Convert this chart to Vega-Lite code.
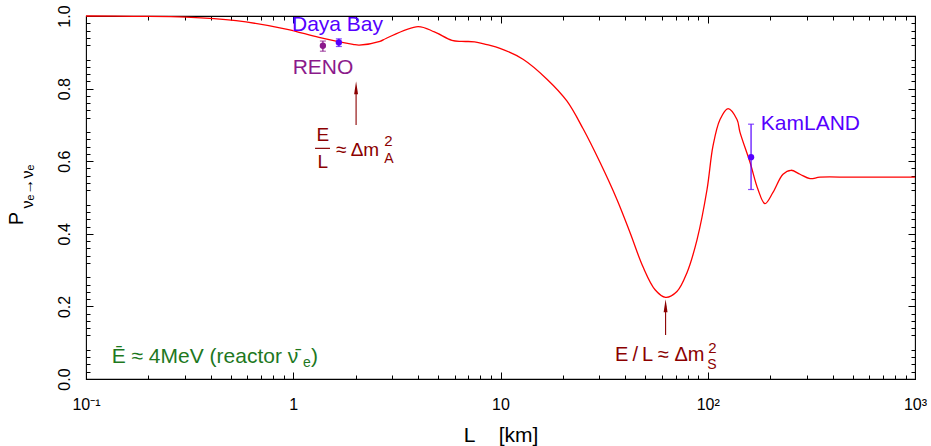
{
  "$schema": "https://vega.github.io/schema/vega-lite/v6.json",
  "width": 829,
  "height": 363,
  "autosize": {"type": "none"},
  "padding": {"left": 86, "top": 16, "right": 16, "bottom": 67},
  "config": {
    "font": "Liberation Sans",
    "view": {"stroke": "black", "strokeWidth": 1.1},
    "axis": {"grid": false, "domain": false, "tickColor": "black", "tickWidth": 1, "labelColor": "black", "titleColor": "black", "labelFont": "Liberation Sans", "titleFont": "Liberation Sans", "titleFontWeight": "normal"}
  },
  "datasets": {
    "curve": [
      {"L": 0.1, "P": 1.0}, {"L": 0.17, "P": 0.999}, {"L": 0.304, "P": 0.997}, {"L": 0.53, "P": 0.987},
      {"L": 0.923, "P": 0.964}, {"L": 1.331, "P": 0.941}, {"L": 1.942, "P": 0.922}, {"L": 2.08, "P": 0.920},
      {"L": 2.62, "P": 0.930}, {"L": 2.8, "P": 0.938}, {"L": 4.0, "P": 0.971}, {"L": 4.8, "P": 0.956},
      {"L": 5.83, "P": 0.933}, {"L": 6.5, "P": 0.930}, {"L": 7.5, "P": 0.929}, {"L": 8.6, "P": 0.921}, {"L": 9.94, "P": 0.911},
      {"L": 12.84, "P": 0.881}, {"L": 16.76, "P": 0.826}, {"L": 20.9, "P": 0.766}, {"L": 25.0, "P": 0.690},
      {"L": 30.2, "P": 0.597}, {"L": 36.5, "P": 0.494}, {"L": 42.2, "P": 0.403}, {"L": 48.7, "P": 0.309},
      {"L": 55.7, "P": 0.246}, {"L": 62.6, "P": 0.225}, {"L": 71.0, "P": 0.241}, {"L": 79.4, "P": 0.293},
      {"L": 88.8, "P": 0.384}, {"L": 99.2, "P": 0.522}, {"L": 106.0, "P": 0.642}, {"L": 114.6, "P": 0.715},
      {"L": 125.3, "P": 0.745}, {"L": 138.4, "P": 0.715}, {"L": 143.0, "P": 0.680}, {"L": 159.9, "P": 0.597},
      {"L": 174.8, "P": 0.522}, {"L": 188.9, "P": 0.483}, {"L": 206.4, "P": 0.514}, {"L": 230.7, "P": 0.564},
      {"L": 252.1, "P": 0.575}, {"L": 278.7, "P": 0.564}, {"L": 311.5, "P": 0.552}, {"L": 348.0, "P": 0.556},
      {"L": 500.0, "P": 0.556}, {"L": 1000.0, "P": 0.556}
    ],
    "exps": [
      {"exp": "RENO", "L": 1.39, "P": 0.918, "lo": 0.903, "hi": 0.931},
      {"exp": "Daya Bay", "L": 1.66, "P": 0.927, "lo": 0.916, "hi": 0.937},
      {"exp": "KamLAND", "L": 161.8, "P": 0.611, "lo": 0.522, "hi": 0.702}
    ],
    "expLabels": [
      {"exp": "Daya Bay", "text": "Daya Bay", "L": 1.635, "P": 0.959, "side": "center"},
      {"exp": "RENO", "text": "RENO", "L": 1.392, "P": 0.84, "side": "center"},
      {"exp": "KamLAND", "text": "KamLAND", "L": 180.3, "P": 0.6865, "side": "left"}
    ],
    "arrows": [
      {"L": 2.01, "P0": 0.70, "P1": 0.8025},
      {"L": 62.6, "P0": 0.1215, "P1": 0.2017}
    ],
    "bar": [{"L1": 1.274, "L2": 1.504, "P": 0.6354}],
    "annot": [
      {"kind": "frac", "text": "E", "L": 1.39, "P": 0.6555},
      {"kind": "frac", "text": "L", "L": 1.39, "P": 0.582},
      {"kind": "main", "text": "≈ Δm", "L": 1.608, "P": 0.614},
      {"kind": "sup", "text": "2", "L": 2.75, "P": 0.642},
      {"kind": "sub", "text": "A", "L": 2.75, "P": 0.594},
      {"kind": "main2", "text": "E\u2009/\u2009L ≈ Δm", "L": 35.7, "P": 0.0497},
      {"kind": "sup", "text": "2", "L": 100.5, "P": 0.071},
      {"kind": "sub", "text": "S", "L": 99.5, "P": 0.027}
    ],
    "green": [
      {"kind": "main", "text": "Ē ≈ 4MeV (reactor ν̄", "L": 0.133, "P": 0.0433},
      {"kind": "sub", "text": "e", "L": 1.114, "P": 0.033},
      {"kind": "main", "text": ")", "L": 1.218, "P": 0.0433}
    ],
    "ysub": [{"text": "νₑ→νₑ", "L": 0.0525, "P": 0.53}]
  },
  "resolve": {"axis": {"x": "independent", "y": "independent"}},
  "layer": [
    {
      "data": {"name": "curve"},
      "mark": {"type": "line", "color": "#ff0000", "strokeWidth": 1.3, "interpolate": "catmull-rom"},
      "encoding": {
        "x": {"field": "L", "type": "quantitative",
              "scale": {"type": "log", "domain": [0.1, 1000], "nice": false},
              "axis": {"orient": "bottom", "values": [0.1, 1, 10, 100, 1000],
                       "labelExpr": "datum.value < 0.5 ? '10⁻¹' : datum.value < 5 ? '1' : datum.value < 50 ? '10' : datum.value < 500 ? '10²' : '10³'",
                       "tickSize": -7, "labelPadding": 24, "labelFontSize": 16, "labelFlush": false,
                       "title": "L\u00a0\u00a0\u00a0\u00a0[km]", "titleFontSize": 21, "titlePadding": 12}},
        "y": {"field": "P", "type": "quantitative",
              "scale": {"domain": [0, 1], "nice": false, "zero": false},
              "axis": {"orient": "left", "values": [0, 0.2, 0.4, 0.6, 0.8, 1.0], "format": ".1f",
                       "tickSize": -7, "labelPadding": 21, "labelFontSize": 16, "labelAngle": 270,
                       "labelAlign": "center", "labelBaseline": "bottom", "labelFlush": false,
                       "title": "P", "titleFontSize": 20, "titleAngle": 270, "titleX": -70, "titleY": 202,
                       "titleAlign": "center", "titleBaseline": "middle"}}
      }
    },
    {
      "data": {"name": "arrows"},
      "mark": {"type": "rule", "color": "#8b0000", "strokeWidth": 1.1},
      "encoding": {
        "x": {"field": "L", "type": "quantitative",
              "axis": {"orient": "bottom", "values": [0.2,0.3,0.4,0.5,0.6,0.7,0.8,0.9,2,3,4,5,6,7,8,9,20,30,40,50,60,70,80,90,200,300,400,500,600,700,800,900],
                       "labels": false, "tickSize": -4, "title": null}},
        "y": {"field": "P0", "type": "quantitative",
              "axis": {"orient": "left", "values": [0.02,0.04,0.06,0.08,0.12,0.14,0.16,0.18,0.22,0.24,0.26,0.28,0.32,0.34,0.36,0.38,0.42,0.44,0.46,0.48,0.52,0.54,0.56,0.58,0.62,0.64,0.66,0.68,0.72,0.74,0.76,0.78,0.82,0.84,0.86,0.88,0.92,0.94,0.96,0.98],
                       "labels": false, "tickSize": -4, "title": null}},
        "y2": {"field": "P1"}
      }
    },
    {
      "data": {"name": "arrows"},
      "mark": {"type": "point", "shape": "M0,-1L0.3,1L-0.3,1Z", "size": 169, "filled": true, "color": "#8b0000", "opacity": 1},
      "encoding": {
        "x": {"field": "L", "type": "quantitative",
              "axis": {"orient": "top", "values": [0.1, 1, 10, 100, 1000], "labels": false, "tickSize": -7, "title": null}},
        "y": {"field": "P1", "type": "quantitative",
              "axis": {"orient": "right", "values": [0, 0.2, 0.4, 0.6, 0.8, 1.0], "labels": false, "tickSize": -7, "title": null}}
      }
    },
    {
      "data": {"name": "bar"},
      "mark": {"type": "rule", "color": "#8b0000", "strokeWidth": 1.2},
      "encoding": {
        "x": {"field": "L1", "type": "quantitative",
              "axis": {"orient": "top", "values": [0.2,0.3,0.4,0.5,0.6,0.7,0.8,0.9,2,3,4,5,6,7,8,9,20,30,40,50,60,70,80,90,200,300,400,500,600,700,800,900],
                       "labels": false, "tickSize": -4, "title": null}},
        "x2": {"field": "L2"},
        "y": {"field": "P", "type": "quantitative",
              "axis": {"orient": "right", "values": [0.02,0.04,0.06,0.08,0.12,0.14,0.16,0.18,0.22,0.24,0.26,0.28,0.32,0.34,0.36,0.38,0.42,0.44,0.46,0.48,0.52,0.54,0.56,0.58,0.62,0.64,0.66,0.68,0.72,0.74,0.76,0.78,0.82,0.84,0.86,0.88,0.92,0.94,0.96,0.98],
                       "labels": false, "tickSize": -4, "title": null}}
      }
    },
    {
      "data": {"name": "exps"},
      "mark": {"type": "errorbar", "ticks": {"size": 6}, "thickness": 1.2},
      "encoding": {
        "x": {"field": "L", "type": "quantitative", "axis": null},
        "y": {"field": "lo", "type": "quantitative", "axis": null},
        "y2": {"field": "hi"},
        "color": {"field": "exp", "type": "nominal",
                  "scale": {"domain": ["RENO", "Daya Bay", "KamLAND"], "range": ["#8b1a8b", "#5500ff", "#5500ff"]},
                  "legend": null}
      }
    },
    {
      "data": {"name": "exps"},
      "mark": {"type": "circle", "size": 40, "opacity": 1},
      "encoding": {
        "x": {"field": "L", "type": "quantitative", "axis": null},
        "y": {"field": "P", "type": "quantitative", "axis": null},
        "color": {"field": "exp", "type": "nominal", "legend": null}
      }
    },
    {
      "data": {"name": "expLabels"},
      "transform": [{"filter": "datum.side == 'center'"}],
      "mark": {"type": "text", "fontSize": 21, "align": "center", "baseline": "alphabetic"},
      "encoding": {
        "x": {"field": "L", "type": "quantitative", "axis": null},
        "y": {"field": "P", "type": "quantitative", "axis": null},
        "text": {"field": "text"},
        "color": {"field": "exp", "type": "nominal", "legend": null}
      }
    },
    {
      "data": {"name": "expLabels"},
      "transform": [{"filter": "datum.side == 'left'"}],
      "mark": {"type": "text", "fontSize": 21, "align": "left", "baseline": "alphabetic"},
      "encoding": {
        "x": {"field": "L", "type": "quantitative", "axis": null},
        "y": {"field": "P", "type": "quantitative", "axis": null},
        "text": {"field": "text"},
        "color": {"field": "exp", "type": "nominal", "legend": null}
      }
    },
    {
      "data": {"name": "annot"},
      "transform": [{"filter": "datum.kind == 'frac'"}],
      "mark": {"type": "text", "fontSize": 19, "align": "center", "baseline": "alphabetic", "color": "#8b0000"},
      "encoding": {
        "x": {"field": "L", "type": "quantitative", "axis": null},
        "y": {"field": "P", "type": "quantitative", "axis": null},
        "text": {"field": "text"}
      }
    },
    {
      "data": {"name": "annot"},
      "transform": [{"filter": "datum.kind == 'main'"}],
      "mark": {"type": "text", "fontSize": 19, "align": "left", "baseline": "alphabetic", "color": "#8b0000"},
      "encoding": {
        "x": {"field": "L", "type": "quantitative", "axis": null},
        "y": {"field": "P", "type": "quantitative", "axis": null},
        "text": {"field": "text"}
      }
    },
    {
      "data": {"name": "annot"},
      "transform": [{"filter": "datum.kind == 'main2'"}],
      "mark": {"type": "text", "fontSize": 20, "align": "left", "baseline": "alphabetic", "color": "#8b0000"},
      "encoding": {
        "x": {"field": "L", "type": "quantitative", "axis": null},
        "y": {"field": "P", "type": "quantitative", "axis": null},
        "text": {"field": "text"}
      }
    },
    {
      "data": {"name": "annot"},
      "transform": [{"filter": "datum.kind == 'sup'"}],
      "mark": {"type": "text", "fontSize": 15, "align": "left", "baseline": "alphabetic", "color": "#8b0000"},
      "encoding": {
        "x": {"field": "L", "type": "quantitative", "axis": null},
        "y": {"field": "P", "type": "quantitative", "axis": null},
        "text": {"field": "text"}
      }
    },
    {
      "data": {"name": "annot"},
      "transform": [{"filter": "datum.kind == 'sub'"}],
      "mark": {"type": "text", "fontSize": 14, "align": "left", "baseline": "alphabetic", "color": "#8b0000"},
      "encoding": {
        "x": {"field": "L", "type": "quantitative", "axis": null},
        "y": {"field": "P", "type": "quantitative", "axis": null},
        "text": {"field": "text"}
      }
    },
    {
      "data": {"name": "green"},
      "transform": [{"filter": "datum.kind == 'main'"}],
      "mark": {"type": "text", "fontSize": 21, "align": "left", "baseline": "alphabetic", "color": "#1e781e"},
      "encoding": {
        "x": {"field": "L", "type": "quantitative", "axis": null},
        "y": {"field": "P", "type": "quantitative", "axis": null},
        "text": {"field": "text"}
      }
    },
    {
      "data": {"name": "green"},
      "transform": [{"filter": "datum.kind == 'sub'"}],
      "mark": {"type": "text", "fontSize": 14, "align": "left", "baseline": "alphabetic", "color": "#1e781e"},
      "encoding": {
        "x": {"field": "L", "type": "quantitative", "axis": null},
        "y": {"field": "P", "type": "quantitative", "axis": null},
        "text": {"field": "text"}
      }
    },
    {
      "data": {"name": "ysub"},
      "mark": {"type": "text", "fontSize": 16, "align": "center", "baseline": "middle", "angle": 270, "color": "black"},
      "encoding": {
        "x": {"field": "L", "type": "quantitative", "axis": null},
        "y": {"field": "P", "type": "quantitative", "axis": null},
        "text": {"field": "text"}
      }
    }
  ]
}
